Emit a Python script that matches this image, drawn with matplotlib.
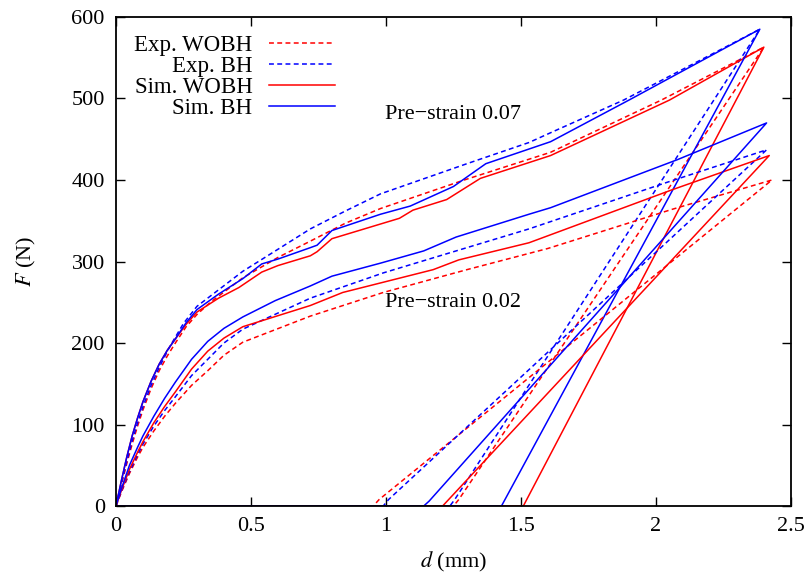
import matplotlib
matplotlib.use("Agg")
import matplotlib.pyplot as plt

plt.rcParams["font.family"] = ["Liberation Serif", "DejaVu Serif"]
plt.rcParams["mathtext.fontset"] = "stix"

# Pre-strain 0.07: loading branch, then unloading to residual, back along zero
exp_wobh_07_x = [0, 0.02, 0.04, 0.06, 0.08, 0.10, 0.13, 0.16, 0.19, 0.22, 0.26, 0.30, 0.35, 0.47, 0.60, 0.72, 0.85, 0.98, 1.29, 1.61, 2.02, 2.40, 1.27, 1.25, 0]
exp_wobh_07_y = [0, 26, 52, 76, 98, 118, 144, 166, 184, 200, 220, 235, 250, 280, 305, 325, 347, 365, 400, 434, 498, 563, 8, 0, 0]
exp_bh_07_x = [0, 0.02, 0.04, 0.06, 0.08, 0.10, 0.13, 0.16, 0.20, 0.25, 0.30, 0.47, 0.60, 0.72, 0.85, 0.98, 1.30, 1.53, 1.61, 1.88, 2.385, 1.255, 1.237, 0]
exp_bh_07_y = [0, 28, 55, 80, 102, 122, 148, 170, 196, 224, 245, 288, 315, 340, 362, 383, 420, 446, 458, 498, 585, 8, 0, 0]
sim_wobh_07_x = [0, 0.02, 0.04, 0.06, 0.08, 0.10, 0.13, 0.16, 0.19, 0.22, 0.26, 0.30, 0.38, 0.455, 0.54, 0.60, 0.72, 0.745, 0.80, 0.98, 1.05, 1.10, 1.225, 1.35, 1.61, 2.05, 2.40, 1.509, 0]
sim_wobh_07_y = [0, 31, 60, 86, 108, 128, 153, 174, 191, 205, 223, 238, 255, 268, 287, 295, 307, 312, 328, 346, 353, 363, 376, 402, 430, 498, 563, 0, 0]
sim_bh_07_x = [0, 0.02, 0.04, 0.06, 0.08, 0.10, 0.13, 0.16, 0.19, 0.22, 0.26, 0.30, 0.38, 0.47, 0.54, 0.60, 0.72, 0.745, 0.80, 0.98, 1.09, 1.25, 1.37, 1.61, 1.90, 2.385, 1.428, 0]
sim_bh_07_y = [0, 31, 60, 86, 108, 128, 153, 174, 191, 205, 225, 241, 260, 279, 297, 303, 317, 320, 338, 358, 368, 392, 420, 447, 498, 585, 0, 0]

# Pre-strain 0.02
exp_wobh_02_x = [0, 0.02, 0.05, 0.08, 0.10, 0.14, 0.18, 0.22, 0.28, 0.34, 0.40, 0.47, 0.72, 0.99, 1.30, 1.60, 2.06, 2.43, 0.975, 0.953, 0]
exp_wobh_02_y = [0, 17, 40, 60, 72, 92, 110, 126, 148, 166, 185, 201, 233, 262, 290, 316, 364, 400, 8, 0, 0]
exp_bh_02_x = [0, 0.02, 0.05, 0.08, 0.10, 0.14, 0.18, 0.22, 0.28, 0.34, 0.40, 0.47, 0.72, 0.99, 1.30, 1.53, 2.04, 2.41, 1.01, 0.99, 0]
exp_bh_02_y = [0, 18, 42, 63, 76, 98, 117, 134, 160, 180, 200, 217, 255, 286, 317, 340, 397, 437, 8, 0, 0]
sim_wobh_02_x = [0, 0.02, 0.05, 0.08, 0.10, 0.14, 0.18, 0.22, 0.28, 0.34, 0.40, 0.47, 0.72, 0.84, 1.175, 1.27, 1.53, 2.06, 2.42, 1.21, 0]
sim_wobh_02_y = [0, 19, 45, 66, 79, 102, 122, 140, 168, 190, 206, 220, 246, 262, 290, 302, 323, 388, 430, 0, 0]
sim_bh_02_x = [0, 0.02, 0.05, 0.08, 0.10, 0.14, 0.18, 0.22, 0.28, 0.34, 0.40, 0.47, 0.59, 0.72, 0.80, 0.98, 1.14, 1.26, 1.53, 1.61, 2.08, 2.41, 1.16, 1.14, 0]
sim_bh_02_y = [0, 21, 50, 72, 86, 110, 132, 152, 180, 202, 218, 232, 252, 270, 282, 298, 313, 330, 358, 366, 425, 470, 6, 0, 0]

RED, BLUE = "#ff0000", "#0000ff"
dash = (0, (3.2, 2.2))

fig = plt.figure(figsize=(8.07, 5.76), dpi=100)
ax = fig.add_axes([0.1437, 0.1215, 0.8363, 0.849])

ax.plot(exp_wobh_07_x, exp_wobh_07_y, color=RED, lw=1.1, ls=dash, label="Exp. WOBH")
ax.plot(exp_bh_07_x, exp_bh_07_y, color=BLUE, lw=1.1, ls=dash, label="Exp. BH")
ax.plot(sim_wobh_07_x, sim_wobh_07_y, color=RED, lw=1.1, label="Sim. WOBH")
ax.plot(sim_bh_07_x, sim_bh_07_y, color=BLUE, lw=1.1, label="Sim. BH")
ax.plot(exp_wobh_02_x, exp_wobh_02_y, color=RED, lw=1.1, ls=dash)
ax.plot(exp_bh_02_x, exp_bh_02_y, color=BLUE, lw=1.1, ls=dash)
ax.plot(sim_wobh_02_x, sim_wobh_02_y, color=RED, lw=1.1)
ax.plot(sim_bh_02_x, sim_bh_02_y, color=BLUE, lw=1.1)

ax.text(0.995, 480, "Pre\u2212strain 0.07", fontsize=16, va="center", ha="left")
ax.text(0.995, 250, "Pre\u2212strain 0.02", fontsize=16, va="center", ha="left")

ax.set_xlim(0, 2.5)
ax.set_ylim(0, 600)
ax.set_xticks([0, 0.5, 1, 1.5, 2, 2.5])
ax.set_xticklabels(["0", "0.5", "1", "1.5", "2", "2.5"])
ax.set_yticks(range(0, 601, 100))
ax.tick_params(direction="in", length=6.5, width=1.0, top=True, right=True,
               labelsize=16, pad=8)
for s in ax.spines.values():
    s.set_linewidth(1.3)

ax.set_xlabel("$d$ (mm)", fontsize=16, labelpad=10)
ax.set_ylabel("$F$ (N)", fontsize=16, labelpad=24)

leg = ax.legend(loc="upper left", fontsize=16.5, frameon=False, markerfirst=False,
                handlelength=2.9, handletextpad=0.7, labelspacing=0.0,
                borderaxespad=0.4, bbox_to_anchor=(0.0, 1.0))
for t in leg.get_texts():
    t.set_ha("right")
leg._legend_box.align = "right"

fig.savefig("out.png", dpi=100)
